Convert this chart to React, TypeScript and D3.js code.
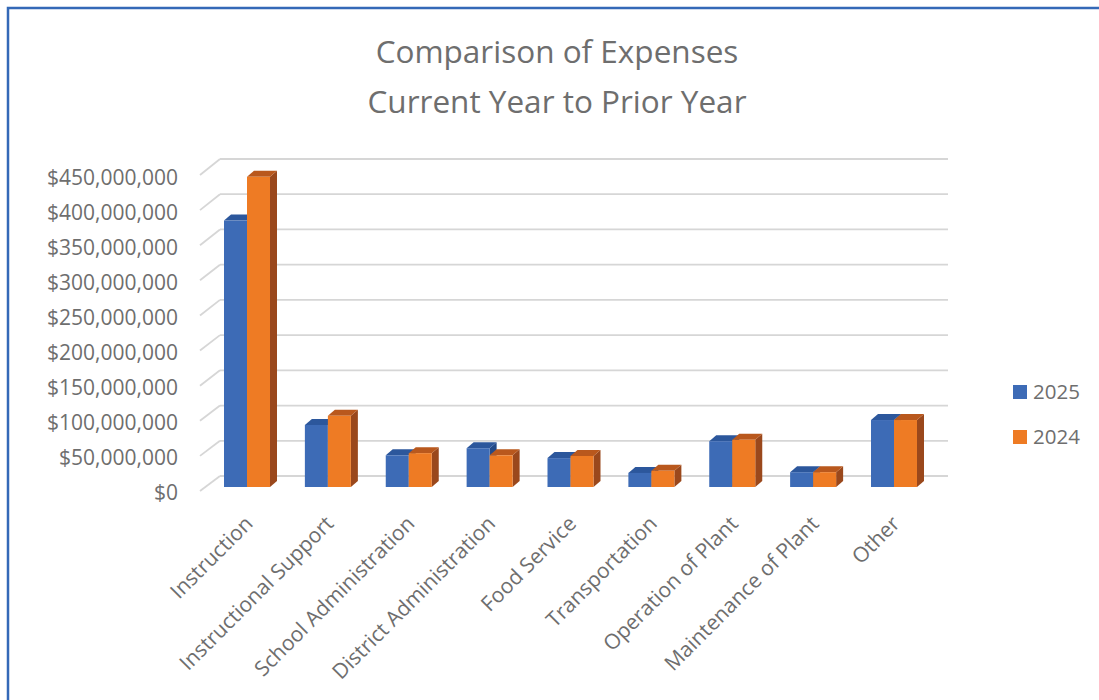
import React from "react";
import * as d3 from "d3";

const categories = [
  "Instruction",
  "Instructional Support",
  "School Administration",
  "District Administration",
  "Food Service",
  "Transportation",
  "Operation of Plant",
  "Maintenance of Plant",
  "Other",
];
const values2025 = [378e6, 88e6, 45e6, 55e6, 41e6, 20e6, 65e6, 21e6, 95e6];
const values2024 = [440e6, 101e6, 48e6, 45e6, 44e6, 23e6, 67e6, 21e6, 95e6];
const seriesNames = ["2025", "2024"];
const yTicks = [0, 50e6, 100e6, 150e6, 200e6, 250e6, 300e6, 350e6, 400e6, 450e6];
const titleLines = ["Comparison of Expenses", "Current Year to Prior Year"];

const FONT = "'Open Sans', 'Liberation Sans', sans-serif";
const TEXT = "#6e6e6e";

const colors = [
  { front: "#3d6bb6", top: "#2c579c", side: "#234a88" },
  { front: "#ee7b24", top: "#b9581d", side: "#9a481c" },
];

export default function App() {
  const W = 1099;
  const H = 700;
  const barY = d3.scaleLinear().domain([0, 450e6]).range([487, 169.8]);
  const wallY = d3.scaleLinear().domain([0, 450e6]).range([476, 159]);
  const frontY = d3.scaleLinear().domain([0, 450e6]).range([491, 175]);
  const labelY = d3.scaleLinear().domain([0, 450e6]).range([499.5, 185]);
  const x = d3.scalePoint<string>().domain(categories).range([247, 894]);
  const bw = 23;
  const dx = 7;
  const dy = 6;
  const fmt = (v: number) => "$" + d3.format(",")(v);

  const bar = (x0: number, v: number, c: typeof colors[0], key: string) => {
    const yt = barY(v);
    const yb = barY(0);
    return (
      <g key={key}>
        <polygon
          points={`${x0 + bw},${yt} ${x0 + bw + dx},${yt - dy} ${x0 + bw + dx},${yb - dy} ${x0 + bw},${yb}`}
          fill={c.side}
        />
        <polygon
          points={`${x0},${yt} ${x0 + bw},${yt} ${x0 + bw + dx},${yt - dy} ${x0 + dx},${yt - dy}`}
          fill={c.top}
        />
        <rect x={x0} y={yt} width={bw} height={yb - yt} fill={c.front} />
      </g>
    );
  };

  return (
    <svg
      width={W}
      height={H}
      style={{ position: "absolute", left: 0, top: 0, background: "#fff" }}
      fontFamily={FONT}
    >
      <rect x={8} y={8} width={W + 20} height={H + 20} fill="#fff" stroke="#3469b7" strokeWidth={2.5} />
      {titleLines.map((t, i) => (
        <text key={t} x={557} y={63 + i * 50} textAnchor="middle" fontSize={31.5} fill={TEXT}>
          {t}
        </text>
      ))}
      {yTicks.map((v) => (
        <g key={v}>
          <line x1={200} y1={frontY(v)} x2={220} y2={wallY(v)} stroke="#d6d6d6" strokeWidth={1.8} />
          <line x1={220} y1={wallY(v)} x2={948} y2={wallY(v)} stroke="#d6d6d6" strokeWidth={1.8} />
          <text x={178} y={labelY(v)} textAnchor="end" fontSize={21} fill={TEXT}>
            {fmt(v)}
          </text>
        </g>
      ))}
      {categories.map((c, i) => {
        const cx = x(c)!;
        return (
          <g key={c}>
            {bar(cx - bw, values2025[i], colors[0], "a")}
            {bar(cx, values2024[i], colors[1], "b")}
          </g>
        );
      })}
      {categories.map((c) => {
        const cx = x(c)!;
        return (
          <text
            key={c}
            transform={`translate(${cx + 7},${525}) rotate(-45)`}
            textAnchor="end"
            fontSize={21}
            fill={TEXT}
          >
            {c}
          </text>
        );
      })}
      {seriesNames.map((s, i) => (
        <g key={s}>
          <rect x={1013} y={385 + i * 45} width={14} height={14} fill={colors[i].front} />
          <text x={1033} y={399 + i * 45} fontSize={20.5} fill={TEXT}>
            {s}
          </text>
        </g>
      ))}
    </svg>
  );
}
